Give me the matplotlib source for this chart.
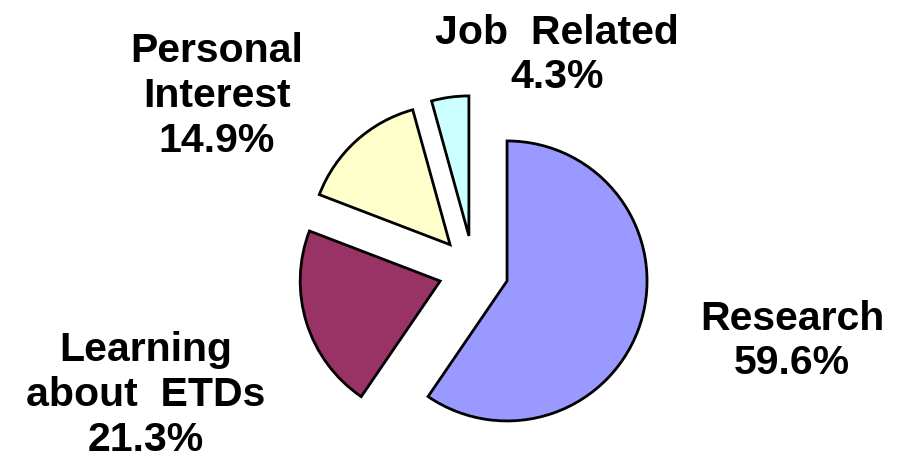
import matplotlib.pyplot as plt

# survey answers, percent
labels = ['Research', 'Learning\nabout  ETDs', 'Personal\nInterest', 'Job  Related']
values = [59.6, 21.3, 14.9, 4.3]
pct_text = ['59.6%', '21.3%', '14.9%', '4.3%']
colors = ['#9999FF', '#993366', '#FFFFCC', '#CCFFFF']

# label centres in pixel coords (x from left, y from top)
label_pos = [(792, 341), (146, 395), (217, 96), (557, 55)]

W, H = 904, 460
R = 140.0          # pie radius in px
cx, cy = 473.6, 271.6

fig = plt.figure(figsize=(W / 100, H / 100), dpi=100)
ax = fig.add_axes([0, 0, 1, 1])
ax.axis('off')

ax.pie(values, colors=colors, startangle=90, counterclock=False,
       explode=[0.25] * len(values), radius=1,
       wedgeprops=dict(edgecolor='black', linewidth=2, joinstyle='miter'))
ax.set_xlim(-cx / R, (W - cx) / R)
ax.set_ylim(-(H - cy) / R, cy / R)
ax.set_aspect('equal')

for lab, p, (px, py) in zip(labels, pct_text, label_pos):
    ax.text((px - cx) / R, (cy - py) / R, lab + '\n' + p,
            ha='center', va='center', multialignment='center',
            fontsize=29.5, fontweight='bold', family='Liberation Sans',
            linespacing=1.22)

fig.savefig('out.png', dpi=100)
